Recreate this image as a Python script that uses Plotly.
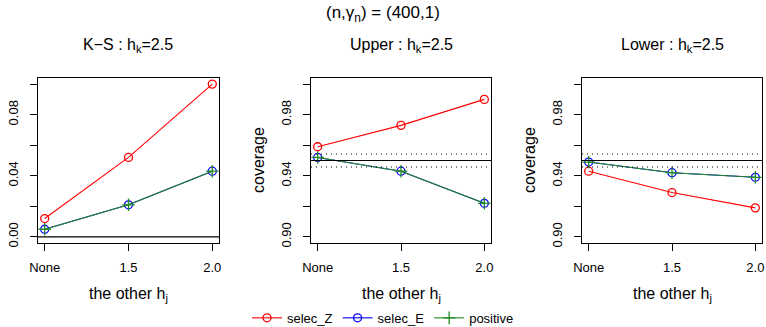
import plotly.graph_objects as go

# ---------------- data ----------------
x_pos = [1, 2, 3]
x_labels = ["None", "1.5", "2.0"]

ks_selec_Z = [0.012, 0.052, 0.100]
ks_selec_E = [0.005, 0.021, 0.043]
ks_positive = [0.005, 0.021, 0.043]

up_selec_Z = [0.959, 0.973, 0.990]
up_selec_E = [0.952, 0.943, 0.922]
up_positive = [0.952, 0.943, 0.922]

lo_selec_Z = [0.943, 0.929, 0.919]
lo_selec_E = [0.949, 0.942, 0.939]
lo_positive = [0.949, 0.942, 0.939]

nominal = 0.95
mc_band = 0.00427

ks_ticks = [0.00, 0.04, 0.08]
ks_ticktext = ["0.00", "0.04", "0.08"]
ks_minor = [0.02, 0.06, 0.10]
cov_ticks = [0.90, 0.94, 0.98]
cov_ticktext = ["0.90", "0.94", "0.98"]
cov_minor = [0.92, 0.96, 1.00]

panel_titles = ["K\u2212S : h<sub>k</sub>=2.5", "Upper : h<sub>k</sub>=2.5", "Lower : h<sub>k</sub>=2.5"]
main_title = "(n,\u03b3<sub>n</sub>) = (400,1)"
x_title = "the other h<sub>j</sub>"
y_title = "coverage"
series_names = ["selec_Z", "selec_E", "positive"]

# ---------------- layout ----------------
W, H = 766, 327
FONT = "Liberation Sans, Arial, Helvetica, sans-serif"
RED, BLUE, GREEN = "#FF0000", "#0000FF", "#228B22"

x_domains = [[38 / W, 219 / W], [311 / W, 491 / W], [582 / W, 762 / W]]
y_domain = [(H - 243) / H, (H - 78) / H]

fig = go.Figure()

panels = [
    (ks_selec_Z, ks_selec_E, ks_positive),
    (up_selec_Z, up_selec_E, up_positive),
    (lo_selec_Z, lo_selec_E, lo_positive),
]

for i, (z, e, p) in enumerate(panels):
    xa = "x" if i == 0 else f"x{i+1}"
    ya = "y" if i == 0 else f"y{i+1}"
    show = i == 0
    fig.add_trace(go.Scatter(x=x_pos, y=z, xaxis=xa, yaxis=ya, mode="lines+markers",
                             name=series_names[0], showlegend=show, legendgroup="z",
                             line=dict(color=RED, width=1.1),
                             marker=dict(symbol="circle-open", size=8, color=RED, line=dict(width=1.3))))
    fig.add_trace(go.Scatter(x=x_pos, y=e, xaxis=xa, yaxis=ya, mode="lines+markers",
                             name=series_names[1], showlegend=show, legendgroup="e",
                             line=dict(color=BLUE, width=1.1),
                             marker=dict(symbol="circle-open", size=8, color=BLUE, line=dict(width=1.3))))
    fig.add_trace(go.Scatter(x=x_pos, y=p, xaxis=xa, yaxis=ya, mode="lines+markers",
                             name=series_names[2], showlegend=show, legendgroup="p",
                             line=dict(color=GREEN, width=1.1),
                             marker=dict(symbol="cross-thin-open", size=9, color=GREEN, line=dict(width=1.3, color=GREEN))))

    axis_common = dict(showline=True, mirror=True, linecolor="black", linewidth=1,
                       ticks="outside", ticklen=7, tickcolor="black", tickwidth=1,
                       showgrid=False, zeroline=False, automargin=False,
                       tickfont=dict(family=FONT, size=13, color="black"))
    fig.layout[("xaxis" if i == 0 else f"xaxis{i+1}")] = dict(
        domain=x_domains[i], anchor=ya, range=[0.92, 3.08],
        tickvals=x_pos, ticktext=x_labels, ticklabelstandoff=5, **axis_common)
    if i == 0:
        yv, yt, ym, yr = ks_ticks, ks_ticktext, ks_minor, [-0.004, 0.104]
    else:
        yv, yt, ym, yr = cov_ticks, cov_ticktext, cov_minor, [0.896, 1.004]
    fig.layout[("yaxis" if i == 0 else f"yaxis{i+1}")] = dict(
        domain=y_domain, anchor=xa, range=yr, tickvals=yv, ticktext=yt,
        minor=dict(tickvals=ym, ticks="outside", ticklen=7, tickcolor="black", tickwidth=1, showgrid=False),
        tickangle=-90, ticklabelstandoff=7, **axis_common)

    # reference lines
    if i == 0:
        fig.add_shape(type="line", xref=f"{xa} domain", yref=ya, x0=0, x1=1, y0=0, y1=0,
                      line=dict(color="black", width=1.2))
    else:
        fig.add_shape(type="line", xref=f"{xa} domain", yref=ya, x0=0, x1=1, y0=nominal, y1=nominal,
                      line=dict(color="black", width=1.2))
        for d in (nominal - mc_band, nominal + mc_band):
            fig.add_shape(type="line", xref=f"{xa} domain", yref=ya, x0=0, x1=1, y0=d, y1=d,
                          line=dict(color="black", width=1.2, dash="1px,4px"))

    cx = (x_domains[i][0] + x_domains[i][1]) / 2
    fig.add_annotation(text=panel_titles[i], xref="paper", yref="paper", x=cx, y=(H - 46) / H,
                       showarrow=False, font=dict(family=FONT, size=16, color="black"),
                       xanchor="center", yanchor="middle")
    fig.add_annotation(text=x_title, xref="paper", yref="paper", x=cx, y=(H - 294) / H,
                       showarrow=False, font=dict(family=FONT, size=16, color="black"),
                       xanchor="center", yanchor="middle")
    if i > 0:
        fig.add_annotation(text=y_title, xref="paper", yref="paper",
                           x=(x_domains[i][0] * W - 53) / W, y=(H - 160) / H, textangle=-90,
                           showarrow=False, font=dict(family=FONT, size=16, color="black"),
                           xanchor="center", yanchor="middle")

fig.add_annotation(text=main_title, xref="paper", yref="paper", x=383 / W, y=(H - 14) / H,
                   showarrow=False, font=dict(family=FONT, size=17, color="black"),
                   xanchor="center", yanchor="middle")

fig.update_layout(
    width=W, height=H, margin=dict(l=0, r=0, t=0, b=0, autoexpand=False),
    paper_bgcolor="white", plot_bgcolor="white",
    font=dict(family=FONT, size=13, color="black"),
    legend=dict(orientation="h", x=0.5, xanchor="center", y=-0.018, yanchor="bottom",
                font=dict(family=FONT, size=13, color="black"), bgcolor="rgba(0,0,0,0)",
                itemwidth=30, tracegroupgap=0),
)

fig.write_html("out.html")
